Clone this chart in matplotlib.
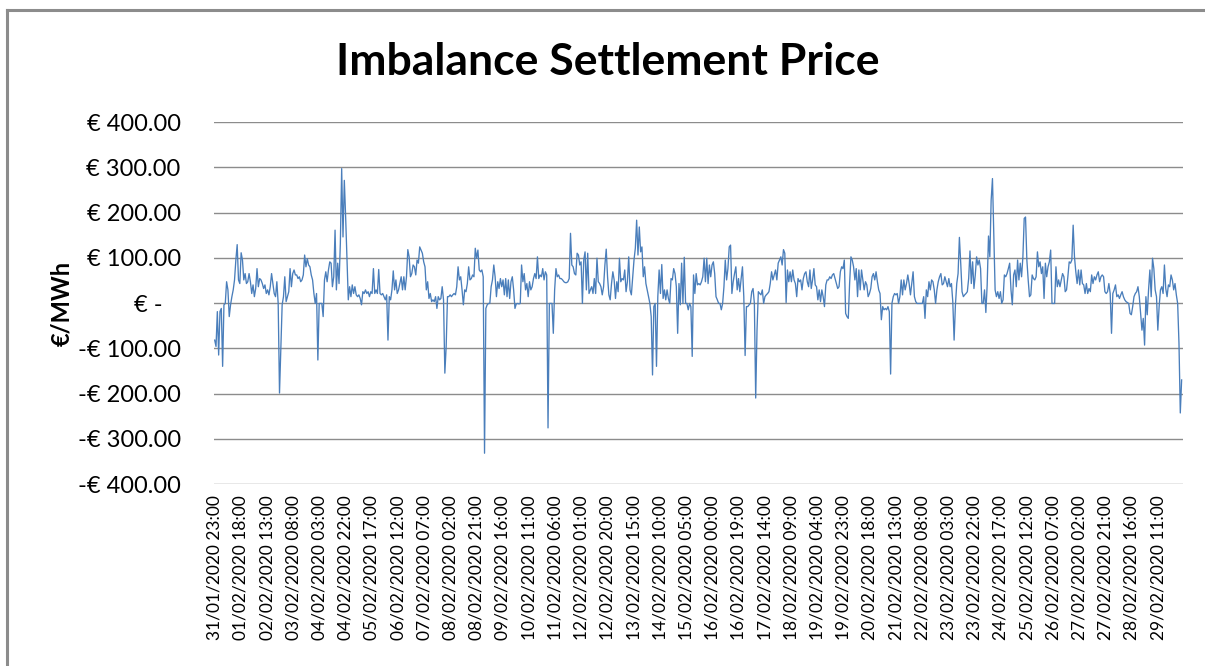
import numpy as np
import matplotlib
matplotlib.use("Agg")
import matplotlib.pyplot as plt
from matplotlib.lines import Line2D

plt.rcParams['font.family'] = ['Lato', 'DejaVu Sans']

# Imbalance settlement price (EUR/MWh) in consecutive parts
price_part1 = [-82, -96, -19, -115, -19, -12, -140, -4, -1, 47, 29, -30, -4, 14, 29, 51, 95, 129, 51, 43,
               111, 95, 51, 65, 43, 47, 65, 47, 21, 40, 14, 32, 76, 36, 54, 51, 43, 32, 40, 21,
               29, 18, 36, 65, 43, 21, 14, 47, -1, -199, -104, -4, 14, 58, 3, 14, 25, 76, 36, 65,
               73, 62, 62, 54, 58, 47, 51, 62, 106, 80, 98, 84, 80, 62, 51, 21, -1, 21, -126, -1,
               -1, -1, -30, 51, 69, 47, 73, 91]
price_part2 = [88, 36, 58, 161, 29, 88, 43, 132, 297, 146, 271, 190, 102, 7, 36, 14, 40, 21, 36, 18,
               14, 18, 10, -4, 25, 21, 29, 21, 25, 14, 25, 21, 76, 21, 29, 21, 74, 21, 18, 21,
               14, 7, 18, -82, 14, 7, 29, 71, 29, 51, 21, 29, 43, 58, 29, 58, 29, 58, 118, 102,
               58, 65, 84, 80, 62, 95, 88, 124, 117, 110, 91, 80, 29, 47, 10, 21, 3, 7, 3, 14,
               -12, 14, 7, 10, 36, 7, -155, -96, 14]
price_part3 = [14, 18, 14, 18, 21, 18, 36, 80, 51, 58, 29, -4, 29, 25, 43, 80, 51, 54, 62, 58,
               121, 99, 117, 73, 69, 73, 58, -332, -12, -4, -1, -1, 36, 51, 84, 58, 14, 47, 32, 54,
               36, 51, 18, 54, 14, 51, 10, 47, 58, 29, -12, -2, -1, -2, -1, 84, 47, 65, 29, 43,
               14, 47, 29, 36, 54, 65, 54, 102, 54, 62, 58, 76, 51, 69, 62, -276, -1, -1, -1, -67,
               29, 76, 58, 62, 54, 54, 51, 47, 45]
price_part4 = [45, 47, 54, 154, 84, 80, 65, 62, 110, 106, 84, 91, -1, 95, 113, 29, 110, 21, 29, 36,
               21, 54, 21, 99, 47, 43, 36, 18, 36, 84, 119, 58, 18, 7, 43, 69, 51, 10, 47, 25,
               99, 47, 54, 51, 73, 25, 47, 102, 29, 18, 58, 95, 121, 183, 106, 168, 113, 124, 58, 80,
               43, 29, 14, -1, -30, -159, -8, -1, -140, 14, 73, 21, 85, 10, 29, 7, 29, 10, -1, 54,
               51, 76, 65, 36, -67, 43, -4, 88, -1, 101, -1]
price_part5 = [-1, -15, -1, -8, -118, 62, 21, 65, 40, 43, 40, 47, 58, 99, 47, 99, 43, 84, 58, 84,
               91, 65, 14, 7, -1, -1, -15, -1, 36, 95, 51, 76, 124, 128, 21, 47, 65, 80, 29, 54,
               25, 54, 80, 14, -116, -8, -8, -4, -1, 25, 32, -1, -210, -60, 25, 21, 18, 29, -1, 14,
               18, 21, 25, 43, 69, 51, 62, 73, 51, 88, 95, 102, 84, 118, 110, 1, 73, 47, 69, 47,
               73, 51, 43, 14, 54, 47, 51, 29, 54, 65, 69]
price_part6 = [47, 36, 73, 32, 51, 76, 40, 36, 7, 29, 3, 29, 14, -8, 40, 51, 51, 58, 54, 62,
               65, 54, 43, 32, 36, 69, 80, 76, 95, -23, -30, -34, 43, 102, 95, 80, 51, 76, 14, 73,
               29, 73, 51, 29, 47, 40, 14, 21, 32, 58, 65, 51, 69, 47, 29, 21, -37, -8, -15, -12,
               -15, -8, -19, -157, -1, 14, 21, 18, 21, -1, 14, 51, 18, 51, 29, 43, 62, 43, 18, 43,
               69, 14, 3, -1, -1, -1, -1, -1, 14, -34, 29]
price_part7 = [14, 47, 29, 51, 47, 29, -1, 29, 47, 58, 65, 40, 43, 58, 47, 36, 54, 36, 43, 3,
               -82, -4, 43, 65, 145, 88, 25, 14, 18, 21, 25, 54, 115, 43, 91, 32, 62, 102, 84, 95,
               76, -1, -1, 29, -21, 40, 148, 102, 227, 275, 154, 29, 14, 25, 10, 25, -1, 7, 62, 58,
               65, 76, 88, 29, -4, 62, 73, 36, 95, 51, 88, 58, 102, 187, 190, 95, 51, 14, 18, 62,
               54, 51, 58, 113, 80, 91, 65, 80, 10, 88, 58]
price_part8 = [80, 91, 117, -1, -1, -1, 80, 36, 51, 36, 51, 65, 58, 25, 29, 58, 91, 88, 95, 172,
               102, 69, 43, 73, 40, 73, 43, 40, 21, 43, 21, 32, 25, 62, 43, 58, 51, 62, 69, 47,
               58, 62, 58, 25, 21, 25, 43, 21, -67, 21, 29, 40, 14, 18, 10, 18, 25, 14, 7, 3,
               1, -1, -23, -26, -8, 14, 21, 25, 36, 14, -23, -60, -34, -93, 14, -26, 29, 73, 14, 99,
               76, 29, 14, -60, -8, 29, 36, 21, 84, 32, 14, 40, 36, 62, 51, 29, 43, 18, -1, -89,
               -243, -170]

tick_labels = ["31/01/2020 23:00", "01/02/2020 18:00", "02/02/2020 13:00", "03/02/2020 08:00",
               "04/02/2020 03:00", "04/02/2020 22:00", "05/02/2020 17:00", "06/02/2020 12:00",
               "07/02/2020 07:00", "08/02/2020 02:00", "08/02/2020 21:00", "09/02/2020 16:00",
               "10/02/2020 11:00", "11/02/2020 06:00", "12/02/2020 01:00", "12/02/2020 20:00",
               "13/02/2020 15:00", "14/02/2020 10:00", "15/02/2020 05:00", "16/02/2020 00:00",
               "16/02/2020 19:00", "17/02/2020 14:00", "18/02/2020 09:00", "19/02/2020 04:00",
               "19/02/2020 23:00", "20/02/2020 18:00", "21/02/2020 13:00", "22/02/2020 08:00",
               "23/02/2020 03:00", "23/02/2020 22:00", "24/02/2020 17:00", "25/02/2020 12:00",
               "26/02/2020 07:00", "27/02/2020 02:00", "27/02/2020 21:00", "28/02/2020 16:00",
               "29/02/2020 11:00"]
y_ticks = [400, 300, 200, 100, 0, -100, -200, -300, -400]
y_tick_labels = ["€ 400.00", "€ 300.00", "€ 200.00", "€ 100.00", "€ -   ",
                 "-€ 100.00", "-€ 200.00", "-€ 300.00", "-€ 400.00"]

price = np.array(price_part1 + price_part2 + price_part3 + price_part4 +
                 price_part5 + price_part6 + price_part7 + price_part8, dtype=float)
total_hours = 701
hours = np.linspace(0, total_hours, len(price))
tick_step = 19

fig = plt.figure(figsize=(12.05, 6.66), dpi=100)
ax = fig.add_axes([214/1205, 1-484/666, (1183-214)/1205, (484-122)/666])

ax.plot(hours, price, color='#4A7EBB', lw=0.95, zorder=3)

ax.set_ylim(-400, 400)
ax.set_xlim(-0.5, total_hours + 1)
ax.set_yticks(y_ticks)
ax.set_yticklabels(y_tick_labels, fontsize=17)
ax.set_xticks(np.arange(len(tick_labels)) * tick_step)
ax.set_xticklabels(tick_labels, rotation=90, fontsize=12.5)
ax.tick_params(axis='y', length=0, pad=24)
ax.tick_params(axis='x', length=0, pad=8)
ax.grid(axis='y', color='#8C8C8C', lw=1.0)
ax.grid(axis='x', visible=False)
for s in ax.spines.values():
    s.set_visible(False)

fig.text(608/1205, 1-62/666, "Imbalance Settlement Price", ha='center', va='center',
         fontsize=32, fontweight='bold')
fig.text(62/1205, 1-303/666, "€/MWh", ha='center', va='center', rotation=90,
         fontsize=17, fontweight='bold')

# chart-area border (left and top edges visible in the crop)
fig.add_artist(Line2D([7/1205, 7/1205], [0, 1-10/666], color='#8C8C8C', lw=2.2,
                      transform=fig.transFigure))
fig.add_artist(Line2D([7/1205, 1], [1-10/666, 1-10/666], color='#8C8C8C', lw=2.2,
                      transform=fig.transFigure))

fig.savefig("out.png", dpi=100)
